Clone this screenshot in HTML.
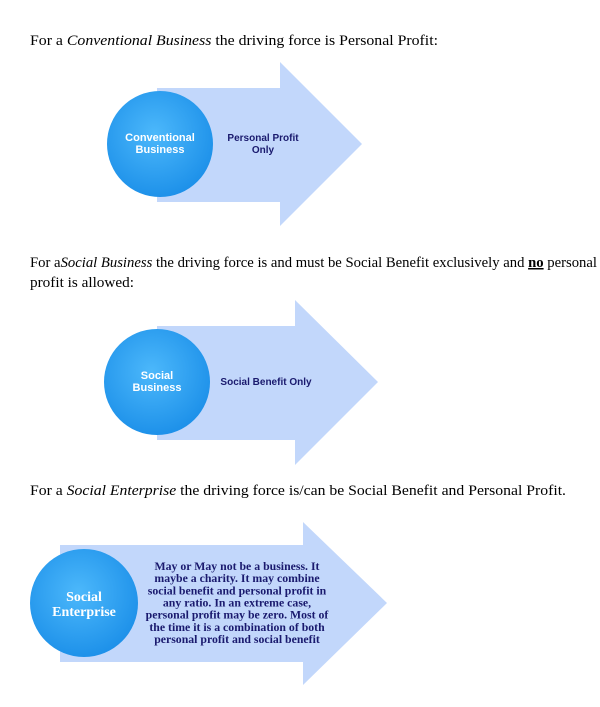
<!DOCTYPE html>
<html><head><meta charset="utf-8"><style>
html,body{margin:0;padding:0;background:#fff;width:600px;height:707px;overflow:hidden}
</style></head><body>
<svg width="600" height="707" viewBox="0 0 600 707" xmlns="http://www.w3.org/2000/svg">
<defs>
<radialGradient id="g" cx="0.45" cy="0.4" r="0.65">
<stop offset="0" stop-color="#4cb8fb"/><stop offset="1" stop-color="#1a8ee8"/>
</radialGradient>
</defs>
<g font-family="Liberation Serif, serif" font-size="15" fill="#000">
<text x="30" y="45" textLength="408" lengthAdjust="spacingAndGlyphs">For a <tspan font-style="italic">Conventional Business</tspan> the driving force is Personal Profit:</text>
<text x="30" y="267" textLength="567" lengthAdjust="spacingAndGlyphs">For a<tspan font-style="italic">Social Business</tspan> the driving force is and must be Social Benefit exclusively and <tspan font-weight="bold" text-decoration="underline">no</tspan> personal</text>
<text x="30" y="287" textLength="104" lengthAdjust="spacingAndGlyphs">profit is allowed:</text>
<text x="30" y="495" textLength="536" lengthAdjust="spacingAndGlyphs">For a <tspan font-style="italic">Social Enterprise</tspan> the driving force is/can be Social Benefit and Personal Profit.</text>
</g>
<polygon points="157,88 280,88 280,62 362,144 280,226 280,202 157,202" fill="#c2d7fb"/>
<circle cx="160" cy="144" r="53" fill="url(#g)"/>
<g font-family="Liberation Sans, sans-serif" font-weight="bold" font-size="11" text-anchor="middle">
<text x="160" y="141" fill="#fff">Conventional</text>
<text x="160" y="153" fill="#fff">Business</text>
<text x="263" y="141" fill="#1a1a6e" font-size="10">Personal Profit</text>
<text x="263" y="153" fill="#1a1a6e" font-size="10">Only</text>
</g>
<polygon points="157,326 295,326 295,300 378,382 295,465 295,440 157,440" fill="#c2d7fb"/>
<circle cx="157" cy="382" r="53" fill="url(#g)"/>
<g font-family="Liberation Sans, sans-serif" font-weight="bold" text-anchor="middle">
<text x="157" y="379" fill="#fff" font-size="11">Social</text>
<text x="157" y="391" fill="#fff" font-size="11">Business</text>
<text x="266" y="385" fill="#1a1a6e" font-size="10">Social Benefit Only</text>
</g>
<polygon points="60,545 303,545 303,522 387,603 303,685 303,662 60,662" fill="#c2d7fb"/>
<circle cx="84" cy="603" r="54" fill="url(#g)"/>
<g font-family="Liberation Serif, serif" font-weight="bold" text-anchor="middle">
<text x="84" y="601" fill="#fff" font-size="14">Social</text>
<text x="84" y="616" fill="#fff" font-size="14">Enterprise</text>
<g fill="#1a1a6e" font-size="11.8">
<text x="237" y="570">May or May not be a business. It</text>
<text x="237" y="582">maybe a charity. It may combine</text>
<text x="237" y="594.5">social benefit and personal profit in</text>
<text x="237" y="606.5">any ratio. In an extreme case,</text>
<text x="237" y="618.5">personal profit may be zero. Most of</text>
<text x="237" y="631">the time it is a combination of both</text>
<text x="237" y="643">personal profit and social benefit</text>
</g>
</g>
</svg>
</body></html>
